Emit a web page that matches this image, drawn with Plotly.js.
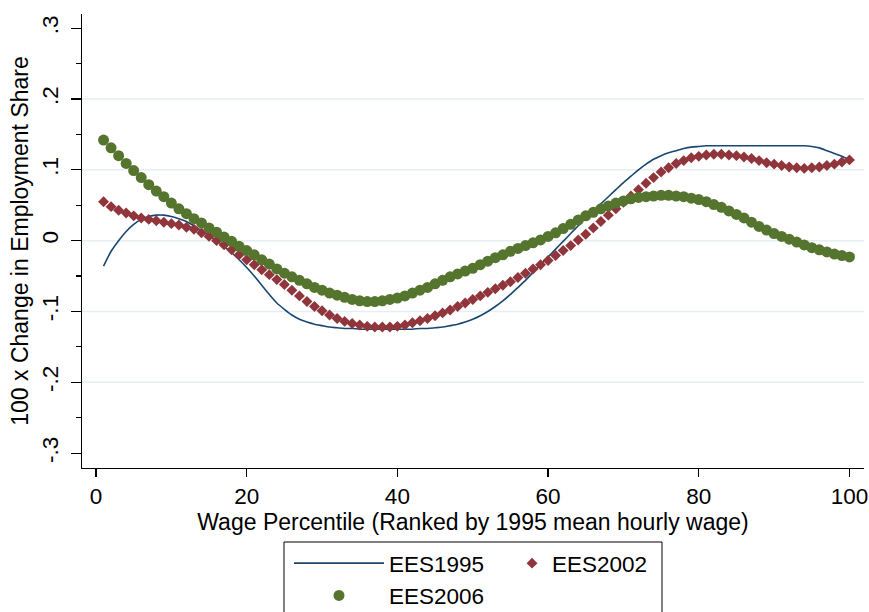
<!DOCTYPE html>
<html>
<head>
<meta charset="utf-8">
<script src="https://cdn.plot.ly/plotly-3.0.1.min.js"></script>
<style>
  html, body { margin: 0; padding: 0; background: #ffffff; }
  #chart { width: 869px; height: 612px; }
</style>
</head>
<body>
<div id="chart"></div>
<script>
// Wage percentiles (ranked by 1995 mean hourly wage)
const percentile = [
  1, 2, 3, 4, 5, 6, 7, 8, 9, 10, 11, 12, 13, 14, 15, 16, 17, 18, 19, 20,
  21, 22, 23, 24, 25, 26, 27, 28, 29, 30, 31, 32, 33, 34, 35, 36, 37, 38, 39, 40,
  41, 42, 43, 44, 45, 46, 47, 48, 49, 50, 51, 52, 53, 54, 55, 56, 57, 58, 59, 60,
  61, 62, 63, 64, 65, 66, 67, 68, 69, 70, 71, 72, 73, 74, 75, 76, 77, 78, 79, 80,
  81, 82, 83, 84, 85, 86, 87, 88, 89, 90, 91, 92, 93, 94, 95, 96, 97, 98, 99, 100
];

// Smoothed 100 x change in employment share, EES1995
const ees1995 = [
  -0.036, -0.015, 0.000, 0.013, 0.023, 0.030, 0.034, 0.036, 0.036, 0.034,
   0.031, 0.027, 0.021, 0.014, 0.007, 0.000, -0.008, -0.017, -0.027, -0.038,
  -0.050, -0.063, -0.076, -0.088, -0.097, -0.105, -0.111, -0.115, -0.118, -0.120,
  -0.122, -0.123, -0.124, -0.124, -0.125, -0.125, -0.125, -0.125, -0.125, -0.125,
  -0.125, -0.125, -0.124, -0.124, -0.123, -0.122, -0.120, -0.118, -0.115, -0.111,
  -0.106, -0.100, -0.093, -0.085, -0.076, -0.066, -0.056, -0.045, -0.034, -0.023,
  -0.012, -0.001, 0.010, 0.021, 0.032, 0.042, 0.052, 0.062, 0.072, 0.082,
   0.091, 0.100, 0.108, 0.115, 0.120, 0.124, 0.127, 0.130, 0.132, 0.133,
   0.134, 0.134, 0.134, 0.134, 0.134, 0.134, 0.134, 0.134, 0.134, 0.134,
   0.134, 0.134, 0.134, 0.134, 0.133, 0.131, 0.127, 0.123, 0.119, 0.114
];

// EES2002
const ees2002 = [
   0.055, 0.048, 0.043, 0.039, 0.035, 0.032, 0.030, 0.028, 0.026, 0.024,
   0.022, 0.019, 0.016, 0.011, 0.006, 0.000, -0.006, -0.013, -0.020, -0.027,
  -0.034, -0.041, -0.048, -0.055, -0.062, -0.070, -0.078, -0.086, -0.093, -0.099,
  -0.105, -0.110, -0.114, -0.117, -0.119, -0.121, -0.122, -0.122, -0.122, -0.121,
  -0.119, -0.116, -0.113, -0.110, -0.106, -0.102, -0.098, -0.093, -0.088, -0.083,
  -0.078, -0.073, -0.068, -0.063, -0.058, -0.052, -0.046, -0.040, -0.034, -0.028,
  -0.021, -0.014, -0.007, 0.001, 0.009, 0.018, 0.027, 0.036, 0.045, 0.054,
   0.063, 0.072, 0.081, 0.089, 0.097, 0.103, 0.109, 0.113, 0.117, 0.119,
   0.121, 0.122, 0.122, 0.121, 0.120, 0.118, 0.116, 0.113, 0.110, 0.108,
   0.106, 0.104, 0.103, 0.102, 0.103, 0.104, 0.106, 0.108, 0.111, 0.114
];

// EES2006
const ees2006 = [
   0.142, 0.131, 0.120, 0.109, 0.099, 0.089, 0.079, 0.070, 0.062, 0.053,
   0.045, 0.038, 0.031, 0.025, 0.018, 0.012, 0.005, -0.001, -0.008, -0.014,
  -0.020, -0.027, -0.033, -0.040, -0.046, -0.051, -0.056, -0.061, -0.066, -0.070,
  -0.074, -0.077, -0.080, -0.083, -0.085, -0.086, -0.086, -0.085, -0.083, -0.081,
  -0.078, -0.074, -0.070, -0.066, -0.061, -0.056, -0.051, -0.047, -0.043, -0.039,
  -0.034, -0.029, -0.024, -0.020, -0.015, -0.011, -0.007, -0.003, 0.001, 0.006,
   0.011, 0.017, 0.023, 0.029, 0.035, 0.040, 0.045, 0.049, 0.053, 0.056,
   0.059, 0.061, 0.062, 0.063, 0.064, 0.064, 0.063, 0.062, 0.060, 0.058,
   0.055, 0.051, 0.047, 0.042, 0.037, 0.032, 0.026, 0.020, 0.015, 0.010,
   0.006, 0.002, -0.002, -0.006, -0.010, -0.013, -0.016, -0.019, -0.021, -0.023
];

// Axis ticks and labels
const xTickVals = [0, 20, 40, 60, 80, 100];
const yTickVals = [-0.3, -0.2, -0.1, 0, 0.1, 0.2, 0.3];
const yTickText = ['-.3', '-.2', '-.1', '0', '.1', '.2', '.3'];
const yGridVals = [-0.2, -0.1, 0, 0.1, 0.2];

const FONT = '"Liberation Sans", Arial, Helvetica, sans-serif';
const NAVY = '#1a476f';
const MAROON = '#90353b';
const FOREST = '#55752f';
const GRID = '#e6eef1';
const BLACK = '#000000';

// Two legends share one framed key: the left column holds the line and the
// circles, the right column holds the diamonds.
const traces = [
  {
    x: percentile, y: ees1995, name: 'EES1995', type: 'scatter', mode: 'lines',
    line: { color: NAVY, width: 1.6, shape: 'spline', smoothing: 0.6 },
    legend: 'legend', legendgroup: 'a'
  },
  {
    x: percentile, y: ees2002, name: 'EES2002', type: 'scatter', mode: 'markers',
    marker: { symbol: 'diamond', size: 8.4, color: MAROON },
    legend: 'legend2'
  },
  {
    x: percentile, y: ees2006, name: 'EES2006', type: 'scatter', mode: 'markers',
    marker: { symbol: 'circle', size: 11, color: FOREST },
    legend: 'legend', legendgroup: 'b'
  }
];

// Horizontal light reference lines (none at the outermost ticks)
const shapes = yGridVals.map(v => ({
  type: 'line', xref: 'paper', yref: 'y', x0: 0, x1: 1, y0: v, y1: v,
  line: { color: GRID, width: 1.5 }, layer: 'below'
}));

// Frame around the key
shapes.push({
  type: 'rect', xref: 'paper', yref: 'paper',
  x0: 0.2583, x1: 0.7417, y0: -0.163, y1: -0.40,
  line: { color: BLACK, width: 1 }, fillcolor: 'rgba(0,0,0,0)', layer: 'above'
});

const legendFont = { family: FONT, size: 22.5, color: BLACK };

const layout = {
  width: 869, height: 612,
  margin: { l: 82, r: 5, t: 14, b: 144, autoexpand: false },
  paper_bgcolor: '#ffffff', plot_bgcolor: '#ffffff',
  font: { family: FONT, size: 22.5, color: BLACK },
  showlegend: true,
  hovermode: false,
  xaxis: {
    range: [-1.86, 101.93],
    tickmode: 'array', tickvals: xTickVals,
    ticks: 'outside', ticklen: 8, tickwidth: 1.2, tickcolor: BLACK,
    showline: true, linecolor: BLACK, linewidth: 1.2,
    showgrid: false, zeroline: false,
    tickfont: { family: FONT, size: 22.5, color: BLACK },
    title: { text: 'Wage Percentile (Ranked by 1995 mean hourly wage)',
             font: { family: FONT, size: 23, color: BLACK }, standoff: 0 }
  },
  yaxis: {
    range: [-0.321, 0.320],
    tickmode: 'array', tickvals: yTickVals, ticktext: yTickText,
    tickangle: -90, ticklabelstandoff: 4,
    ticks: 'outside', ticklen: 10, tickwidth: 1.2, tickcolor: BLACK,
    minor: { tickmode: 'linear', tick0: 0, dtick: 0.05, ticks: 'outside',
             ticklen: 5, tickwidth: 1.2, tickcolor: BLACK, showgrid: false },
    showline: true, linecolor: BLACK, linewidth: 1.2,
    showgrid: false, zeroline: false,
    tickfont: { family: FONT, size: 22.5, color: BLACK },
    title: { text: '100 x Change in Employment Share',
             font: { family: FONT, size: 23, color: BLACK }, standoff: 2 }
  },
  legend: {
    orientation: 'v', traceorder: 'grouped', tracegroupgap: 0,
    x: 0.2647, xanchor: 'left', y: -0.163, yanchor: 'top',
    bgcolor: 'rgba(0,0,0,0)', borderwidth: 0,
    font: legendFont, itemwidth: 90
  },
  legend2: {
    orientation: 'v',
    x: 0.5499, xanchor: 'left', y: -0.163, yanchor: 'top',
    bgcolor: 'rgba(0,0,0,0)', borderwidth: 0,
    font: legendFont, itemwidth: 30
  },
  shapes: shapes
};

Plotly.newPlot('chart', traces, layout, { staticPlot: true, displayModeBar: false });
</script>
</body>
</html>
